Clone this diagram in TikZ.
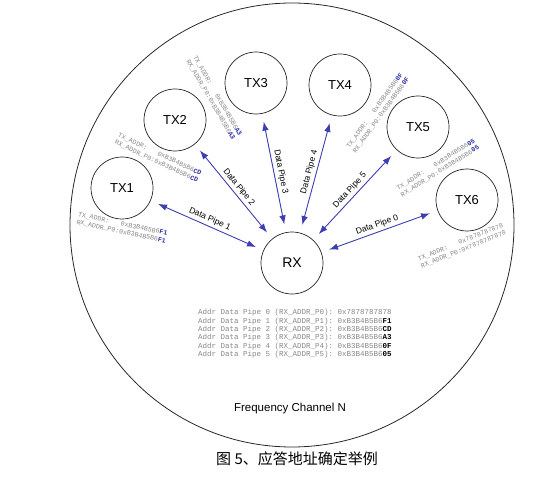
\documentclass[tikz,border=0pt]{standalone}
\usepackage{fontspec}
\setmainfont{Liberation Sans}
\setmonofont{Liberation Mono}
\newfontfamily\cjk{Noto Sans CJK SC}
\usepackage{xcolor}
\usetikzlibrary{arrows.meta}
\definecolor{pipeblue}{RGB}{62,62,178}
\definecolor{addrgray}{RGB}{135,135,135}
\definecolor{byteblue}{RGB}{45,45,165}

\begin{document}
\begin{tikzpicture}[
        x=1pt, y=-1pt,
        channel/.style={circle, draw=black!85, line width=0.8pt, minimum size=444pt, inner sep=0pt},
        radio/.style={circle, draw=black!85, line width=0.7pt, minimum size=62pt, inner sep=0pt, font=\fontsize{13}{13}\selectfont},
        pipe/.style={<->, >={Latex[length=9pt,width=6.5pt]}, draw=pipeblue, line width=0.9pt, shorten <=8pt, shorten >=8pt},
        pipelabel/.style={sloped, above, font=\fontsize{8.5}{9}\selectfont, inner sep=2.5pt},
        addr/.style={align=left, text=addrgray, font=\ttfamily\fontsize{6.6}{7.8}\selectfont, inner sep=0pt},
        pipetable/.style={align=left, text=addrgray, font=\ttfamily\fontsize{7.5}{8.4}\selectfont, inner sep=0pt}
    ]
        \useasboundingbox (0,0) rectangle (554,481);

        % ========== CHANNEL ==========
        \node[channel] (channel) at (292,225) {};

        % ========== RADIOS ==========
        \node[radio] (tx1) at (122,188) {TX1};
        \node[radio] (tx2) at (175,120) {TX2};
        \node[radio] (tx3) at (256,83) {TX3};
        \node[radio] (tx4) at (340,85) {TX4};
        \node[radio] (tx5) at (418,127) {TX5};
        \node[radio] (tx6) at (467,200) {TX6};
        \node[radio, font=\fontsize{14}{14}\selectfont] (rx) at (292,263) {RX};

        % ========== DATA PIPES ==========
        \draw[pipe] (tx1) -- node[pipelabel] {Data Pipe 1} (rx);
        \draw[pipe] (tx2) -- node[pipelabel] {Data Pipe 2} (rx);
        \draw[pipe] (tx3) -- node[pipelabel] {Data Pipe 3} (rx);
        \draw[pipe] (rx) -- node[pipelabel] {Data Pipe 4} (tx4);
        \draw[pipe] (rx) -- node[pipelabel] {Data Pipe 5} (tx5);
        \draw[pipe] (rx) -- node[pipelabel] {Data Pipe 0} (tx6);

        % ========== ADDRESSES ==========
        \node[addr, rotate=-12] (tx1addr) at (122,228) {TX\_ADDR:\hphantom{000}0xB3B4B5B6\textcolor{byteblue}{\textbf{F1}}\\RX\_ADDR\_P0:0xB3B4B5B6\textcolor{byteblue}{\textbf{F1}}};
        \node[addr, rotate=-25] (tx2addr) at (158,158) {TX\_ADDR:\hphantom{000}0xB3B4B5B6\textcolor{byteblue}{\textbf{CD}}\\RX\_ADDR\_P0:0xB3B4B5B6\textcolor{byteblue}{\textbf{CD}}};
        \node[addr, rotate=-60] (tx3addr) at (214,98) {TX\_ADDR:\hphantom{000}0xB3B4B5B6\textcolor{byteblue}{\textbf{A3}}\\RX\_ADDR\_P0:0xB3B4B5B6\textcolor{byteblue}{\textbf{A3}}};
        \node[addr, rotate=54] (tx4addr) at (378,113) {TX\_ADDR:\hphantom{000}0xB3B4B5B6\textcolor{byteblue}{\textbf{0F}}\\RX\_ADDR\_P0:0xB3B4B5B6\textcolor{byteblue}{\textbf{0F}}};
        \node[addr, rotate=32] (tx5addr) at (438,168) {TX\_ADDR:\hphantom{000}0xB3B4B5B6\textcolor{byteblue}{\textbf{05}}\\RX\_ADDR\_P0:0xB3B4B5B6\textcolor{byteblue}{\textbf{05}}};
        \node[addr, rotate=22] (tx6addr) at (462,246) {TX\_ADDR:\hphantom{000}0x7878787878\\RX\_ADDR\_P0:0x7878787878};

        % ========== RX PIPE TABLE ==========
        \node[pipetable, anchor=north west] (rxtable) at (198,309) {%
            Addr Data Pipe 0 (RX\_ADDR\_P0): 0x7878787878\\
            Addr Data Pipe 1 (RX\_ADDR\_P1): 0xB3B4B5B6\textcolor{black}{\textbf{F1}}\\
            Addr Data Pipe 2 (RX\_ADDR\_P2): 0xB3B4B5B6\textcolor{black}{\textbf{CD}}\\
            Addr Data Pipe 3 (RX\_ADDR\_P3): 0xB3B4B5B6\textcolor{black}{\textbf{A3}}\\
            Addr Data Pipe 4 (RX\_ADDR\_P4): 0xB3B4B5B6\textcolor{black}{\textbf{0F}}\\
            Addr Data Pipe 5 (RX\_ADDR\_P5): 0xB3B4B5B6\textcolor{black}{\textbf{05}}};

        % ========== LABELS ==========
        \node[font=\fontsize{11.5}{12}\selectfont] (chanlabel) at (290,409) {Frequency Channel N};
        \node[font=\cjk\fontsize{15}{16}\selectfont] (caption) at (297,459) {图 5、应答地址确定举例};

    \end{tikzpicture}
\end{document}
